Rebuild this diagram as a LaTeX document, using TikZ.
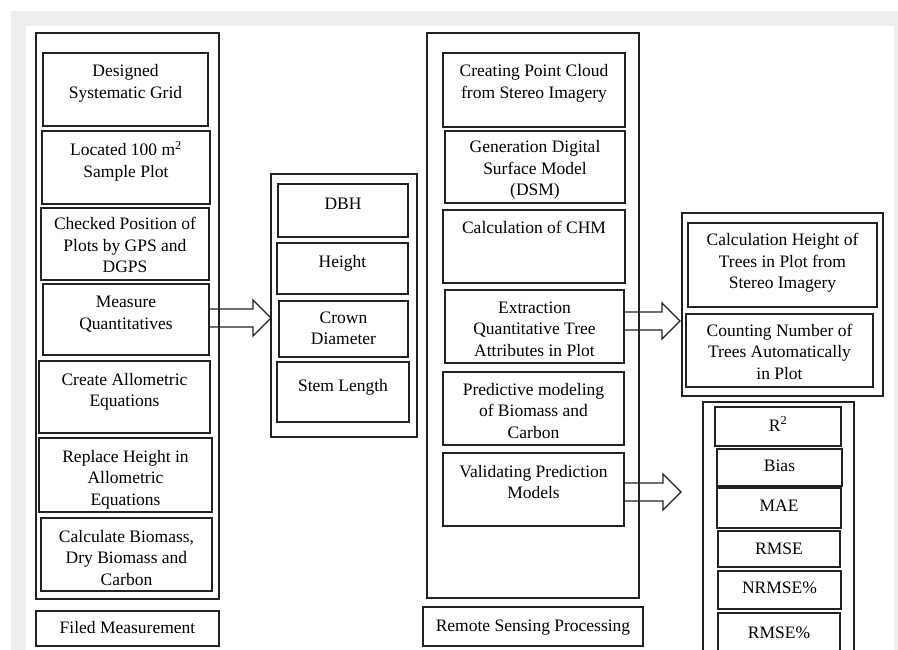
\documentclass[tikz,border=0pt]{standalone}
\usepackage{fontspec}
\setmainfont{Liberation Serif}
\usetikzlibrary{calc}
\definecolor{bggray}{HTML}{EEEEEE}
\definecolor{ink}{HTML}{222222}
\tikzset{
  box/.style={draw=ink, line width=1.5pt, inner sep=0pt, outer sep=0pt, text=black, anchor=north west},
  obox/.style={draw=ink, line width=1.5pt, inner sep=0pt, outer sep=0pt, anchor=north west},
  blockarrow/.style={draw=ink, line width=1.4pt, line join=miter}
}
\newcommand\bx[7]{%
  \pgfmathsetmacro\bw{#4-#2}\pgfmathsetmacro\bh{#5-#3}%
  \node[box, minimum width=\bw pt, minimum height=\bh pt] (#1) at (#2,#3)
    {\parbox[c][\bh pt][t]{\bw pt}{\centering\rule{0pt}{#6pt}#7}};}
\newcommand\ob[5]{%
  \pgfmathsetmacro\bw{#4-#2}\pgfmathsetmacro\bh{#5-#3}%
  \node[obox, minimum width=\bw pt, minimum height=\bh pt] (#1) at (#2,#3) {};}
% from, to, vertical shift of arrow axis, tip offset from target west
\newcommand\barrow[4]{%
  \draw[blockarrow] let \p1=(#1.east), \p2=(#2.west) in
    (\x1,\y1+#3-9pt) -- (\x2+#4-18pt,\y1+#3-9pt) -- (\x2+#4-18pt,\y1+#3-18pt)
    -- (\x2+#4,\y1+#3) -- (\x2+#4-18pt,\y1+#3+18pt) -- (\x2+#4-18pt,\y1+#3+9pt)
    -- (\x1,\y1+#3+9pt) -- cycle;}
\begin{document}
\begin{tikzpicture}[x=1pt,y=-1pt,font=\fontsize{17.5}{21.5}\selectfont]
\useasboundingbox (0,0) rectangle (898,650);
\clip (0,0) rectangle (898,650);
\fill[white] (0,0) rectangle (898,650);
\fill[bggray] (11,11) rectangle (898,650);
\fill[white] (26,26) rectangle (894,650);

% Field measurement column
\ob{leftouter}{36}{33}{219}{599}
\bx{grid}{43}{53}{208}{126}{24}{Designed\\Systematic Grid}
\bx{plot}{42}{131}{210}{204}{25}{Located 100 m\textsuperscript{2}\\Sample Plot}
\bx{gps}{41}{208}{209}{280}{22}{Checked Position of\\Plots by GPS and\\DGPS}
\bx{meas}{43}{284}{209}{355}{24}{Measure\\Quantitatives}
\bx{allo}{39}{361}{210}{433}{24}{Create Allometric\\Equations}
\bx{repl}{39}{438}{212}{512}{24}{Replace Height in\\Allometric\\Equations}
\bx{calc}{41}{518}{212}{591}{24}{Calculate Biomass,\\Dry Biomass and\\Carbon}
\bx{filed}{36}{611}{219}{646}{22}{Filed Measurement}

% Quantitatives
\ob{midouter}{271}{174}{417}{437}
\bx{dbh}{278}{184}{408}{237}{26}{DBH}
\bx{height}{277}{243}{408}{294}{24}{Height}
\bx{crown}{279}{301}{408}{357}{22}{Crown\\Diameter}
\bx{stem}{277}{362}{409}{422}{29}{Stem Length}

% Remote sensing column
\ob{rsouter}{427}{33}{639}{598}
\bx{cloud}{443}{53}{625}{127}{24}{Creating Point Cloud\\from Stereo Imagery}
\bx{dsm}{445}{131}{625}{203}{22}{Generation Digital\\Surface Model\\(DSM)}
\bx{chm}{443}{210}{625}{283}{23}{Calculation of CHM}
\bx{extr}{445}{290}{624}{363}{23}{Extraction\\Quantitative Tree\\Attributes in Plot}
\bx{pred}{443}{372}{624}{445}{23}{Predictive modeling\\of Biomass and\\Carbon}
\bx{valid}{443}{453}{624}{526}{24}{Validating Prediction\\Models}
\bx{rsp}{423}{607}{643}{646}{24}{Remote Sensing Processing}

% Tree attributes
\ob{treeouter}{682}{213}{883}{396}
\bx{theight}{688}{223}{877}{307}{23}{Calculation Height of\\Trees in Plot from\\Stereo Imagery}
\bx{count}{686}{314}{873}{387}{22}{Counting Number of\\Trees Automatically\\in Plot}

% Validation statistics
\ob{valouter}{703}{402}{854}{665}
\bx{r2}{715}{407}{841}{446}{24}{R\textsuperscript{2}}
\bx{bias}{717}{449}{842}{486}{22}{Bias}
\bx{mae}{717}{488}{841}{528}{23}{MAE}
\bx{rmse}{718}{531}{840}{567}{23}{RMSE}
\bx{nrmse}{718}{571}{841}{609}{22}{NRMSE\%}
\bx{rmsep}{718}{613}{840}{660}{25}{RMSE\%}

% Block arrows
\barrow{meas}{midouter}{1.5pt}{0pt}
\barrow{extr}{treeouter}{5.5pt}{-2pt}
\barrow{valid}{valouter}{-2.5pt}{-22pt}
\end{tikzpicture}
\end{document}
